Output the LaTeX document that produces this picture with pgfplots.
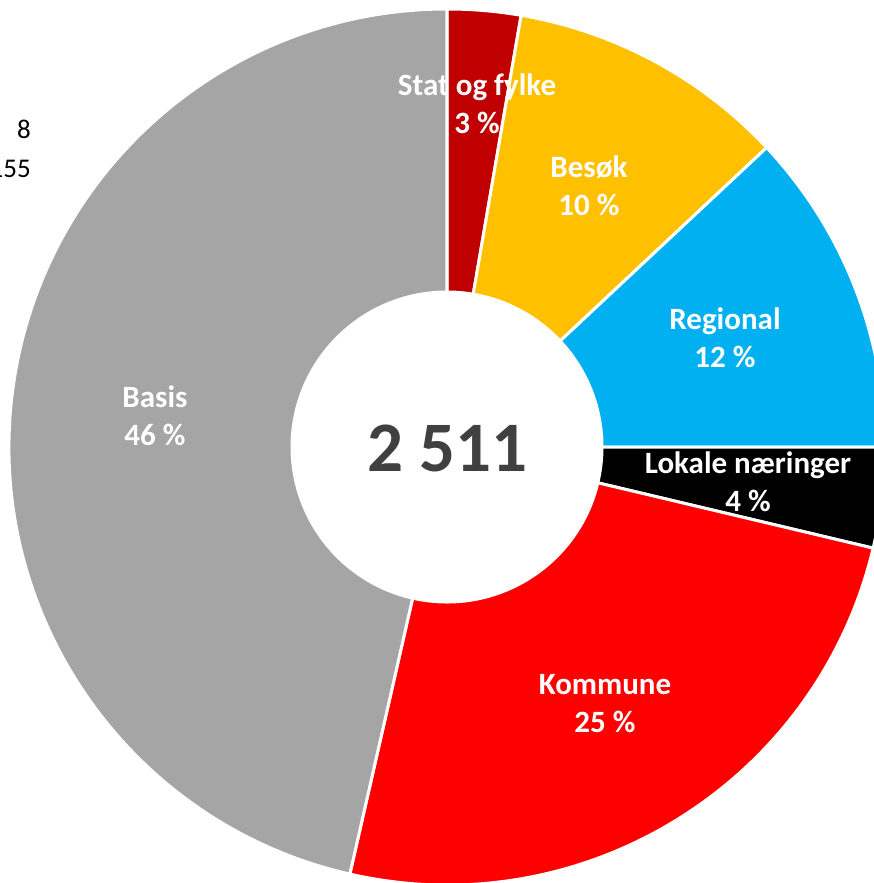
\documentclass[border=0pt]{standalone}
\usepackage{fontspec}
\setmainfont{Carlito}
\usepackage{pgfplots}
\usepackage{pgfplotstable}
\pgfplotsset{compat=1.18}

\definecolor{cStat}{HTML}{C00000}
\definecolor{cBesok}{HTML}{FFC000}
\definecolor{cRegional}{HTML}{00B0F0}
\definecolor{cLokale}{HTML}{000000}
\definecolor{cKommune}{HTML}{FF0000}
\definecolor{cBasis}{HTML}{A5A5A5}
\definecolor{cCenter}{HTML}{404040}

\pgfplotstableread{
label value
Stat 68
Besok 259
Regional 301
Lokale 93
Kommune 624
Basis 1166
}\donut

\pgfplotstablegetelem{0}{value}\of\donut \let\vA\pgfplotsretval
\pgfplotstablegetelem{1}{value}\of\donut \let\vB\pgfplotsretval
\pgfplotstablegetelem{2}{value}\of\donut \let\vC\pgfplotsretval
\pgfplotstablegetelem{3}{value}\of\donut \let\vD\pgfplotsretval
\pgfplotstablegetelem{4}{value}\of\donut \let\vE\pgfplotsretval
\pgfplotstablegetelem{5}{value}\of\donut \let\vF\pgfplotsretval
\pgfmathsetmacro\tot{\vA+\vB+\vC+\vD+\vE+\vF}
\pgfmathsetmacro\aO{90}
\pgfmathsetmacro\aA{\aO-360*(\vA/\tot)}
\pgfmathsetmacro\aB{\aA-360*(\vB/\tot)}
\pgfmathsetmacro\aC{\aB-360*(\vC/\tot)}
\pgfmathsetmacro\aD{\aC-360*(\vD/\tot)}
\pgfmathsetmacro\aE{\aD-360*(\vE/\tot)}
\pgfmathsetmacro\aF{\aE-360*(\vF/\tot)}

\newcommand\sector[3]{%
  \fill[#1, draw=white, line width=3pt, line join=round]
    ([shift={(#2:438pt)}]axis cs:447,436)
    arc[start angle=#2, end angle=#3, radius=438pt]
    -- ([shift={(#3:155pt)}]axis cs:447,436)
    arc[start angle=#3, end angle=#2, radius=155pt] -- cycle;}

\begin{document}
\begin{tikzpicture}
\begin{axis}[
  at={(0,0)}, anchor=south west,
  scale only axis, width=873pt, height=883pt,
  xmin=0, xmax=873, ymin=0, ymax=883,
  hide axis, clip=false]
  \sector{cStat}{\aO}{\aA}
  \sector{cBesok}{\aA}{\aB}
  \sector{cRegional}{\aB}{\aC}
  \sector{cLokale}{\aC}{\aD}
  \sector{cKommune}{\aD}{\aE}
  \sector{cBasis}{\aE}{\aF}
  \begin{scope}[every node/.style={text=white, font=\fontsize{31}{38}\selectfont\bfseries, align=center, inner sep=0pt}]
  \node at (axis cs:477,779) {Stat og fylke\\3 \%};
  \node at (axis cs:589,697) {Besøk\\10 \%};
  \node at (axis cs:725,545) {Regional\\12 \%};
  \node at (axis cs:748,401) {Lokale næringer\\4 \%};
  \node at (axis cs:605,179) {Kommune\\25 \%};
  \node at (axis cs:155,467) {Basis\\46 \%};
  \end{scope}
  \node[text=cCenter, font=\fontsize{71}{80}\selectfont\bfseries] at (axis cs:447,435) {2 511};
  \node[anchor=east, font=\fontsize{27}{32}\selectfont, inner sep=0pt] at (axis cs:31,754) {8};
  \node[anchor=east, font=\fontsize{27}{32}\selectfont, inner sep=0pt] at (axis cs:31,714) {155};
\end{axis}
\pgfresetboundingbox
\useasboundingbox (0,0) rectangle (873pt,883pt);
\end{tikzpicture}
\end{document}
